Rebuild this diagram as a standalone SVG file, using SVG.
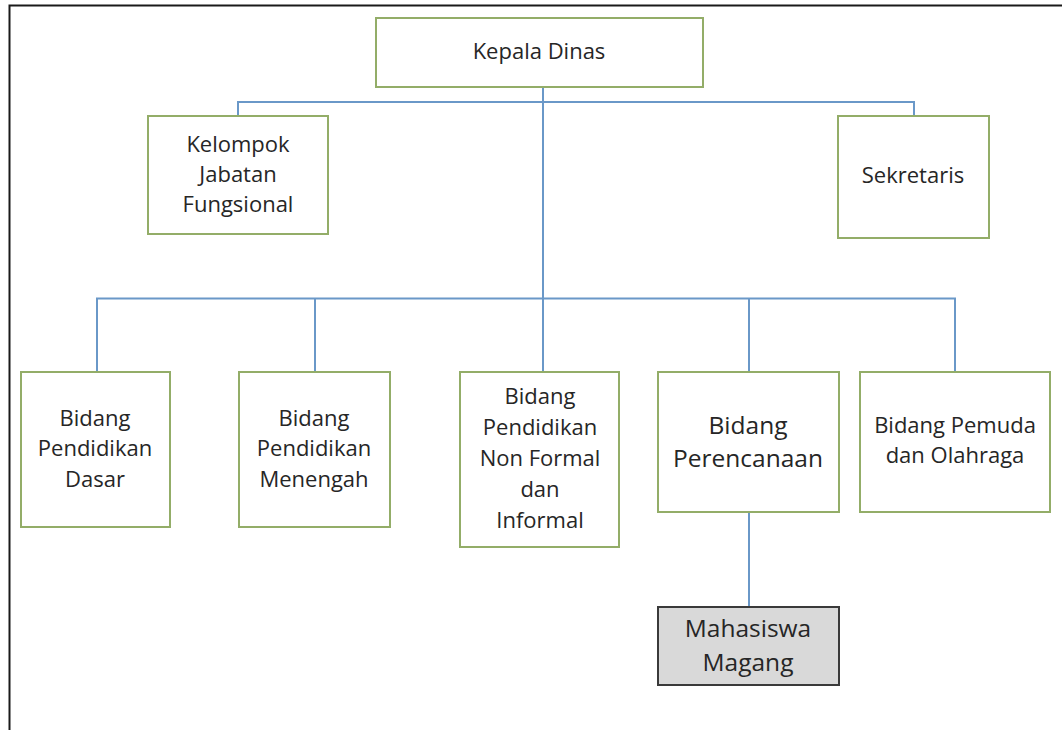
<svg xmlns="http://www.w3.org/2000/svg" width="1062" height="730" viewBox="0 0 1062 730">
<style>
.box{fill:#ffffff;stroke:#93ad68;stroke-width:2}
.gray{fill:#d9d9d9;stroke:#3a3a3a;stroke-width:2}
.line{stroke:#6a98c8;stroke-width:2;fill:none}
.t{font-family:"Open Sans","Noto Sans",sans-serif;font-size:22px;fill:#262626;text-anchor:middle}
.tl{font-family:"Open Sans","Noto Sans",sans-serif;font-size:24.5px;fill:#262626;text-anchor:middle}
</style>
<rect x="0" y="0" width="1062" height="730" fill="#ffffff"/>
<path d="M9.5 740 V5.5 H1070" fill="none" stroke="#1a1a1a" stroke-width="2"/>
<g id="connectors">
<path class="line" d="M543 87 V372"/>
<path class="line" d="M238 116 V102 H914 V116"/>
<path class="line" d="M97 372 V298.5 H955 V372"/>
<path class="line" d="M315 298.5 V372"/>
<path class="line" d="M749 298.5 V372"/>
<path class="line" d="M749 512 V607"/>
</g>
<g id="kepala-dinas">
<rect class="box" x="376" y="18" width="327" height="69"/>
<text class="t" x="539" y="59">Kepala Dinas</text>
</g>
<g id="kelompok">
<rect class="box" x="148" y="116" width="180" height="118"/>
<text class="t" x="238" y="152">Kelompok</text>
<text class="t" x="238" y="182">Jabatan</text>
<text class="t" x="238" y="212">Fungsional</text>
</g>
<g id="sekretaris">
<rect class="box" x="838" y="116" width="151" height="122"/>
<text class="t" x="913" y="183">Sekretaris</text>
</g>
<g id="dasar">
<rect class="box" x="21" y="372" width="149" height="155"/>
<text class="t" x="95" y="426">Bidang</text>
<text class="t" x="95" y="456">Pendidikan</text>
<text class="t" x="95" y="487">Dasar</text>
</g>
<g id="menengah">
<rect class="box" x="239" y="372" width="151" height="155"/>
<text class="t" x="314" y="426">Bidang</text>
<text class="t" x="314" y="456">Pendidikan</text>
<text class="t" x="314" y="487">Menengah</text>
</g>
<g id="nonformal">
<rect class="box" x="460" y="372" width="159" height="175"/>
<text class="t" x="540" y="404">Bidang</text>
<text class="t" x="540" y="435">Pendidikan</text>
<text class="t" x="540" y="466">Non Formal</text>
<text class="t" x="540" y="497">dan</text>
<text class="t" x="540" y="528">Informal</text>
</g>
<g id="perencanaan">
<rect class="box" x="658" y="372" width="181" height="140"/>
<text class="tl" x="748" y="434">Bidang</text>
<text class="tl" x="748" y="467">Perencanaan</text>
</g>
<g id="pemuda">
<rect class="box" x="860" y="372" width="190" height="140"/>
<text class="t" x="955" y="433">Bidang Pemuda</text>
<text class="t" x="955" y="463">dan Olahraga</text>
</g>
<g id="mahasiswa">
<rect class="gray" x="658" y="607" width="181" height="78"/>
<text class="tl" x="748" y="637">Mahasiswa</text>
<text class="tl" x="748" y="671">Magang</text>
</g>
</svg>
